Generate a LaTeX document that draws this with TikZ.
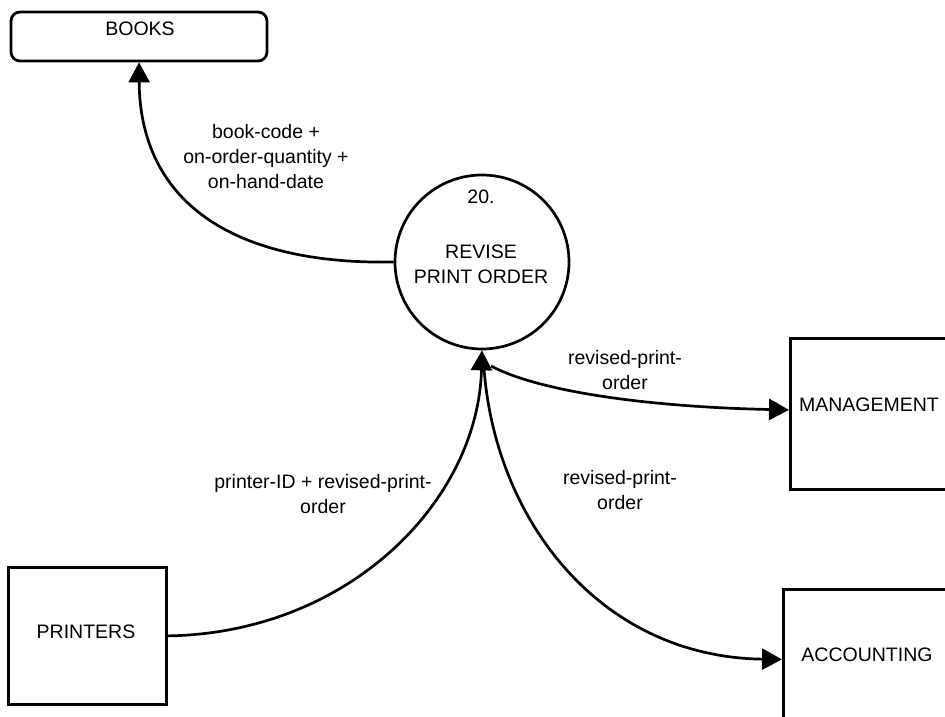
\documentclass[tikz,border=0pt]{standalone}
\usepackage{fontspec}
\setmainfont{Liberation Sans}
\usetikzlibrary{arrows.meta}
\begin{document}
\begin{tikzpicture}[x=1pt,y=-1pt,
  line width=2.7pt,
  lbl/.style={font=\fontsize{19.5}{25}\selectfont, align=center, inner sep=0pt},
  ent/.style={draw, line width=2.8pt, inner sep=0pt},
  flow/.style={-{Triangle[length=20pt,width=21pt]}}]
\useasboundingbox (0,0) rectangle (945,717);
% entities
\node[ent, rounded corners=9pt, minimum width=256pt, minimum height=49pt] (books) at (139,36.5) {};
\node[lbl] (bookst) at (140,29) {BOOKS};
\node[draw, circle, minimum size=174pt, inner sep=0pt] (proc) at (482,262) {};
\node[lbl] (pnum) at (481,197) {20.};
\node[lbl] (pname) at (481,264) {REVISE\\PRINT ORDER};
\node[ent, minimum width=170pt, minimum height=151pt, anchor=north west] (mgmt) at (789,337) {};
\node[lbl] (mgmtt) at (869,405) {MANAGEMENT};
\node[ent, minimum width=170pt, minimum height=140pt, anchor=north west] (acct) at (782,588) {};
\node[lbl] (acctt) at (867,655) {ACCOUNTING};
\node[ent, minimum width=158pt, minimum height=137pt, anchor=north west] (prn) at (7,566) {};
\node[lbl] (prnt) at (86,632) {PRINTERS};
% junction points below the process
\coordinate (j1) at (491,366);
\coordinate (j2) at (484,368);
% flows
\draw[flow] (proc.west) .. controls (230,265) and (140,200) .. (books.south);
\draw[flow] (prn.east) .. controls (350,633) and (478,500) .. (proc.south);
\draw[flow] (j1) .. controls (540,392) and (650,407) .. ([yshift=4pt]mgmt.west);
\draw[flow] (j2) .. controls (495,520) and (600,657) .. (acct.west);
% labels
\node[lbl] (l1) at (266,157) {book-code +\\on-order-quantity +\\on-hand-date};
\node[lbl] (l2) at (625,370) {revised-print-\\order};
\node[lbl] (l3) at (620,490) {revised-print-\\order};
\node[lbl] (l4) at (323,494) {printer-ID + revised-print-\\order};
\end{tikzpicture}
\end{document}
